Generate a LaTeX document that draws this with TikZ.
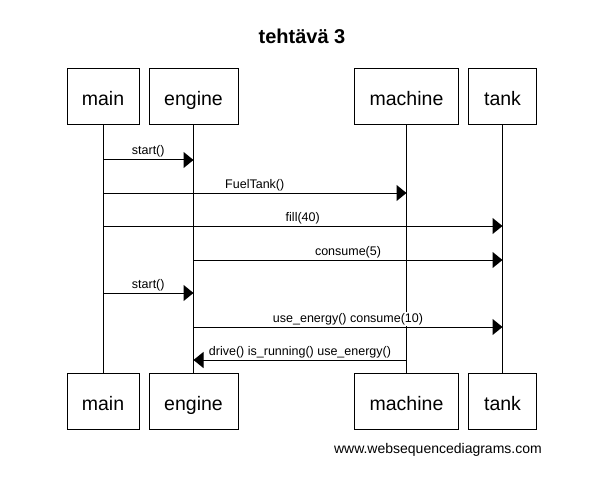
\documentclass[tikz,border=0pt]{standalone}
\usepackage{fontspec}
\setmainfont{Liberation Sans}
\usetikzlibrary{arrows.meta}
\begin{document}
\begin{tikzpicture}[x=1pt,y=-1pt,
  part/.style={draw, line width=1pt, minimum height=56pt, inner sep=0pt, text height=20pt, text depth=2pt, font=\fontsize{19.5}{20}\selectfont},
  life/.style={line width=1pt},
  msg/.style={line width=1pt, -{Triangle[length=10pt,width=16pt]}},
  lbl/.style={fill=white, inner sep=1pt, anchor=base, yshift=5pt, font=\fontsize{12.5}{13}\selectfont}]
\useasboundingbox[fill=white] (0,0) rectangle (596,489);
\node[anchor=base, inner sep=0pt, font=\bfseries\fontsize{20}{20}\selectfont] (title) at (302,44) {tehtävä 3};
% top participants
\node[part, minimum width=72pt] (mainT) at (103,97) {main};
\node[part, minimum width=89pt] (engT) at (193.5,97) {engine};
\node[part, minimum width=104pt] (machT) at (406.5,97) {machine};
\node[part, minimum width=68pt] (tankT) at (502.5,97) {tank};
% bottom participants
\node[part, minimum width=72pt] (mainB) at (103,401.5) {main};
\node[part, minimum width=89pt] (engB) at (193.5,401.5) {engine};
\node[part, minimum width=104pt] (machB) at (406.5,401.5) {machine};
\node[part, minimum width=68pt] (tankB) at (502.5,401.5) {tank};
% lifelines
\draw[life] (mainT) -- (mainB);
\draw[life] (engT) -- (engB);
\draw[life] (machT) -- (machB);
\draw[life] (tankT) -- (tankB);
% message rows
\coordinate (r1) at (0,160);
\coordinate (r2) at (0,193);
\coordinate (r3) at (0,226);
\coordinate (r4) at (0,260);
\coordinate (r5) at (0,293);
\coordinate (r6) at (0,327);
\coordinate (r7) at (0,360);
\draw[msg] (mainT.south |- r1) -- (engT.south |- r1) node[lbl, midway] {start()};
\draw[msg] (mainT.south |- r2) -- (machT.south |- r2) node[lbl, midway] {FuelTank()};
\draw[msg] (mainT.south |- r3) -- (tankT.south |- r3) node[lbl, midway] {fill(40)};
\draw[msg] (engT.south |- r4) -- (tankT.south |- r4) node[lbl, midway] {consume(5)};
\draw[msg] (mainT.south |- r5) -- (engT.south |- r5) node[lbl, midway] {start()};
\draw[msg] (engT.south |- r6) -- (tankT.south |- r6) node[lbl, midway] {use\_energy() consume(10)};
\draw[msg] (machT.south |- r7) -- (engT.south |- r7) node[lbl, midway] {drive() is\_running() use\_energy()};
\node[anchor=base east, inner sep=0pt, font=\fontsize{14}{14}\selectfont] (foot) at (542,453) {www.websequencediagrams.com};
\end{tikzpicture}
\end{document}
